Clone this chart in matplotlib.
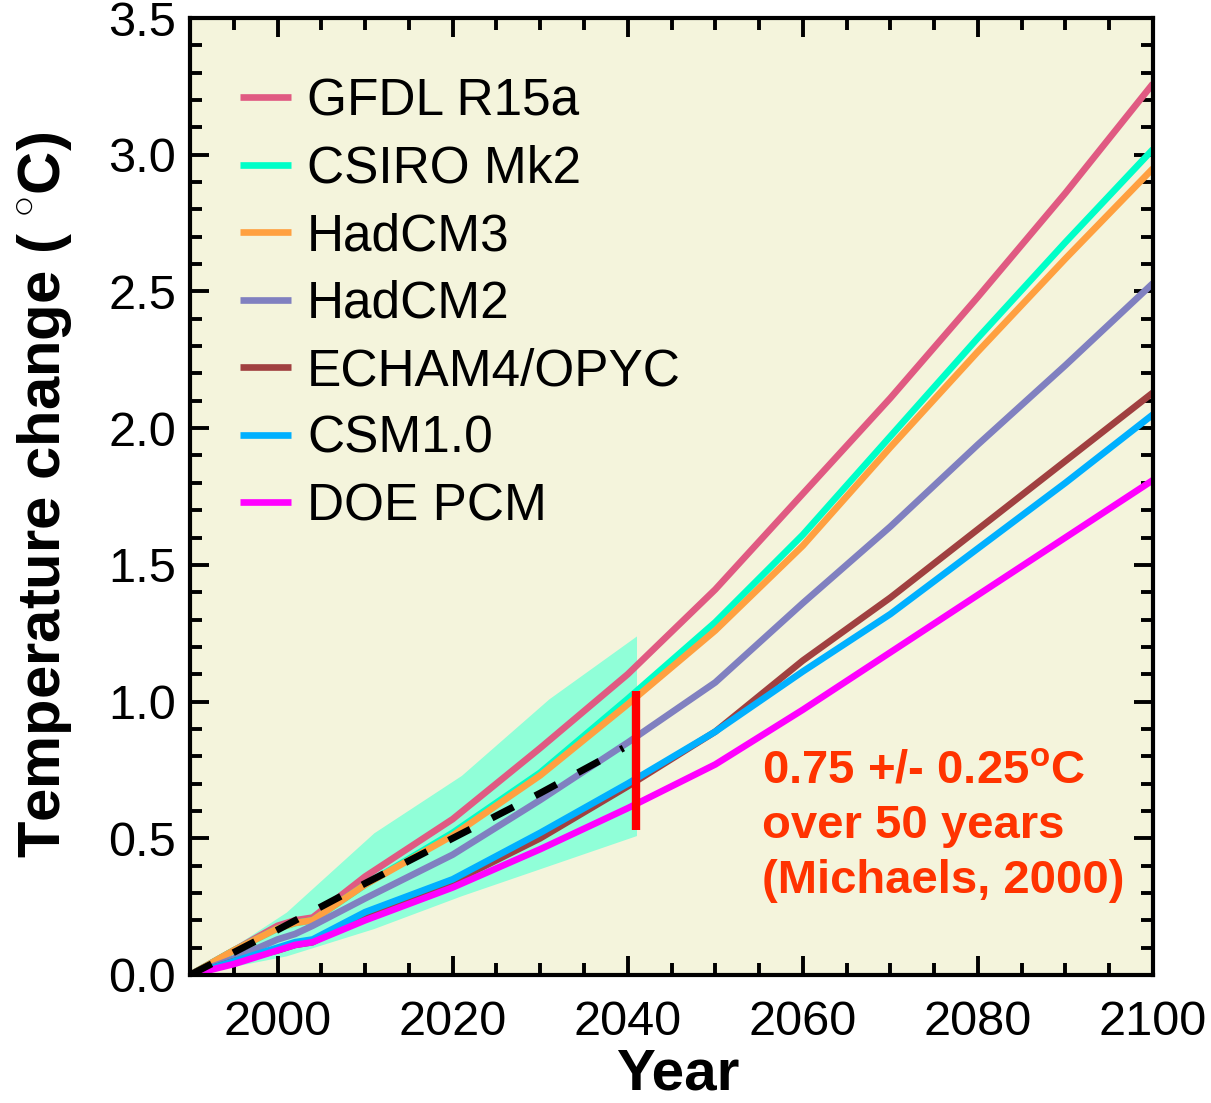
import numpy as np
import matplotlib
matplotlib.use("Agg")
import matplotlib.pyplot as plt
from matplotlib.ticker import MultipleLocator

plt.rcParams['font.family'] = ['Liberation Sans', 'DejaVu Sans']
plt.rcParams['mathtext.fontset'] = 'custom'
plt.rcParams['mathtext.bf'] = 'Liberation Sans:bold'
plt.rcParams['mathtext.rm'] = 'Liberation Sans'

# model runs, temperature change (deg C) vs year
years = [1990, 1995, 2000, 2002, 2004, 2010, 2020, 2030, 2040, 2050, 2060, 2070, 2080, 2090, 2100]
gfdl = [0, 0.09, 0.18, 0.20, 0.21, 0.36, 0.57, 0.83, 1.10, 1.41, 1.76, 2.11, 2.48, 2.86, 3.26]
csiro = [0, 0.09, 0.17, 0.19, 0.20, 0.33, 0.52, 0.74, 1.01, 1.29, 1.61, 1.97, 2.33, 2.68, 3.02]
hadcm3 = [0, 0.09, 0.17, 0.19, 0.20, 0.33, 0.51, 0.73, 0.99, 1.26, 1.57, 1.93, 2.28, 2.62, 2.95]
hadcm2 = [0, 0.06, 0.13, 0.15, 0.18, 0.28, 0.44, 0.64, 0.85, 1.07, 1.36, 1.64, 1.94, 2.23, 2.53]
echam = [0, 0.05, 0.09, 0.11, 0.12, 0.22, 0.34, 0.50, 0.69, 0.89, 1.15, 1.38, 1.63, 1.88, 2.13]
csm = [0, 0.05, 0.10, 0.12, 0.13, 0.23, 0.35, 0.52, 0.70, 0.89, 1.11, 1.32, 1.56, 1.80, 2.05]
doe = [0, 0.04, 0.09, 0.11, 0.12, 0.20, 0.32, 0.46, 0.61, 0.77, 0.97, 1.18, 1.39, 1.60, 1.81]

labels = ["GFDL R15a", "CSIRO Mk2", "HadCM3", "HadCM2", "ECHAM4/OPYC", "CSM1.0", "DOE PCM"]
colors = ["#E05A82", "#00FFC8", "#FFA040", "#8080C0", "#A04040", "#00B0FF", "#FF00FF"]

# observed-trend envelope and mean
band_years = [1990, 2001, 2011, 2021, 2031, 2041]
band_upper = [0, 0.23, 0.52, 0.73, 1.01, 1.24]
band_lower = [0, 0.07, 0.17, 0.29, 0.40, 0.51]
mean_years = [1990, 2000, 2010, 2020, 2030, 2039.5]
mean_vals = [0, 0.165, 0.335, 0.50, 0.665, 0.83]

# Michaels (2000) estimate
red_year = 2041
red_low, red_high = 0.53, 1.04

fig = plt.figure(figsize=(12.11, 11.03), dpi=100)
ax = fig.add_axes([190/1211, 1-975/1103, 963/1211, 957/1103])
ax.set_facecolor("#F4F4DC")

ax.fill_between(band_years, band_lower, band_upper, color="#90FFD8", lw=0, zorder=1)

series = [gfdl, csiro, hadcm3, hadcm2, echam, csm, doe]
for vals, lab, col in zip(series, labels, colors):
    ax.plot(years, vals, color=col, lw=4.8, label=lab, zorder=2, solid_capstyle='butt')

ax.plot(mean_years, mean_vals, color="black", lw=5, ls=(0, (3.5, 3.5)), zorder=3)
ax.plot([red_year, red_year], [red_low, red_high], color="#FF0000", lw=6, zorder=4, solid_capstyle='butt')

ax.text(2055.3, 0.545, "0.75 +/- 0.25$^{\\mathbf{o}}$C\nover 50 years\n(Michaels, 2000)",
        color="#FF3300", fontsize=34, fontweight="bold", va="center", ha="left",
        linespacing=1.33, zorder=5)

ax.set_xlim(1990, 2100)
ax.set_ylim(0, 3.5)
ax.xaxis.set_major_locator(MultipleLocator(20))
ax.xaxis.set_minor_locator(MultipleLocator(5))
ax.yaxis.set_major_locator(MultipleLocator(0.5))
ax.yaxis.set_minor_locator(MultipleLocator(0.1))
ax.yaxis.set_major_formatter(matplotlib.ticker.FormatStrFormatter('%.1f'))
ax.tick_params(which="both", direction="in", top=True, right=True, width=2.8)
ax.tick_params(which="major", length=14, labelsize=35)
ax.tick_params(which="minor", length=8.5)
ax.tick_params(axis="x", which="major", pad=18)
ax.tick_params(axis="y", which="major", pad=10)
for sp in ax.spines.values():
    sp.set_linewidth(3)

leg = ax.legend(loc="upper left", bbox_to_anchor=(0.052, 0.938), frameon=False,
                fontsize=37, handlelength=1.0, handletextpad=0.3, labelspacing=0.36,
                borderpad=0, borderaxespad=0)

fig.text(45/1211, 1-495/1103, "Temperature change ( $^{\\circ}$C)", rotation=90,
         ha="center", va="center", fontsize=43, fontweight="bold")
fig.text(678/1211, 1-1075/1103, "Year", ha="center", va="center",
         fontsize=42, fontweight="bold")

fig.savefig("out.png", dpi=100)
